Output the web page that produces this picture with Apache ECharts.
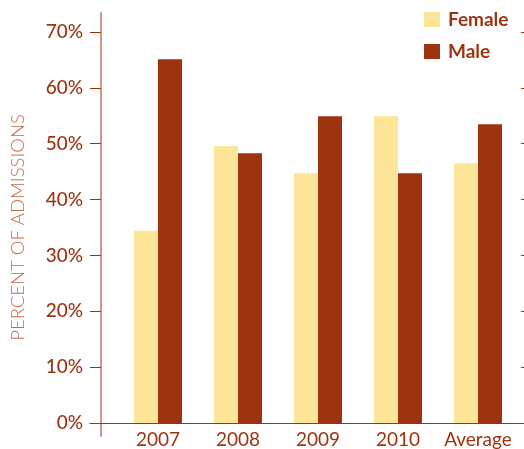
<!DOCTYPE html>
<html>
<head>
<meta charset="utf-8">
<script src="https://cdn.jsdelivr.net/npm/echarts@6/dist/echarts.min.js"></script>
<style>
  html, body { margin: 0; padding: 0; background: #ffffff; }
  #chart { width: 524px; height: 449px; }
</style>
</head>
<body>
<div id="chart"></div>
<script>
// admissions by gender, percent
const categories = ['2007', '2008', '2009', '2010', 'Average'];
const female = [34.4, 49.6, 44.7, 54.9, 46.5];
const male = [65.1, 48.3, 54.9, 44.7, 53.5];
const yMin = 0;
const yMax = 70;
const yStep = 10;

const rust = '#9e3312';
const cream = '#fde598';
const font = 'Lato, "Open Sans", sans-serif';

const chart = echarts.init(document.getElementById('chart'));

chart.setOption({
  animation: false,
  backgroundColor: '#ffffff',
  legend: {
    orient: 'vertical',
    left: 419,
    top: 5,
    itemWidth: 16,
    itemHeight: 15,
    itemGap: 13,
    icon: 'rect',
    textStyle: { color: rust, fontFamily: font, fontSize: 19, fontWeight: 'bold', padding: [0, 0, 0, 3] },
    data: ['Female', 'Male']
  },
  grid: [
    // plot area
    { left: 118, right: 6, top: 32, bottom: 26, outerBoundsMode: 'none' },
    // long x axis baseline
    { left: 90, right: 1, top: 32, bottom: 26, outerBoundsMode: 'none' },
    // long y axis line
    { left: 101, width: 1, top: 13, bottom: 13, outerBoundsMode: 'none' }
  ],
  xAxis: [
    {
      type: 'category',
      data: categories,
      axisLine: { show: false },
      axisTick: { show: false },
      axisLabel: { color: rust, fontFamily: font, fontSize: 19, margin: 7, interval: 0 }
    },
    {
      type: 'value',
      gridIndex: 1,
      min: 0,
      max: 1,
      axisLine: { show: true, lineStyle: { color: rust, width: 1 } },
      axisTick: { show: false },
      axisLabel: { show: false },
      splitLine: { show: false }
    },
    {
      type: 'value',
      gridIndex: 2,
      show: false
    }
  ],
  yAxis: [
    {
      type: 'value',
      min: yMin,
      max: yMax,
      interval: yStep,
      offset: 17,
      name: 'PERCENT OF ADMISSIONS',
      nameLocation: 'middle',
      nameGap: 73,
      nameTextStyle: { color: '#c46a4c', fontFamily: font, fontSize: 18.5, fontWeight: 300 },
      axisLine: { show: false },
      axisTick: { show: true, length: 11, lineStyle: { color: rust, width: 1 } },
      axisLabel: {
        color: rust,
        fontFamily: font,
        fontSize: 19,
        fontWeight: 500,
        margin: 18,
        formatter: (v) => v + '%'
      },
      splitLine: { show: false }
    },
    {
      type: 'value',
      min: yMin,
      max: yMax,
      interval: yStep,
      offset: 17,
      axisLine: { show: false },
      axisTick: { show: true, inside: true, length: 14, lineStyle: { color: rust, width: 1 } },
      axisLabel: { show: false },
      splitLine: { show: false }
    },
    {
      type: 'value',
      gridIndex: 1,
      show: false
    },
    {
      type: 'value',
      gridIndex: 2,
      min: 0,
      max: 1,
      axisLine: { show: true, lineStyle: { color: '#d09784', width: 2 } },
      axisTick: { show: false },
      axisLabel: { show: false },
      splitLine: { show: false }
    }
  ],
  series: [
    {
      name: 'Female',
      type: 'bar',
      data: female,
      barWidth: 24,
      barGap: '0%',
      itemStyle: { color: cream }
    },
    {
      name: 'Male',
      type: 'bar',
      data: male,
      barWidth: 24,
      barGap: '0%',
      itemStyle: { color: rust }
    }
  ]
});
</script>
</body>
</html>
